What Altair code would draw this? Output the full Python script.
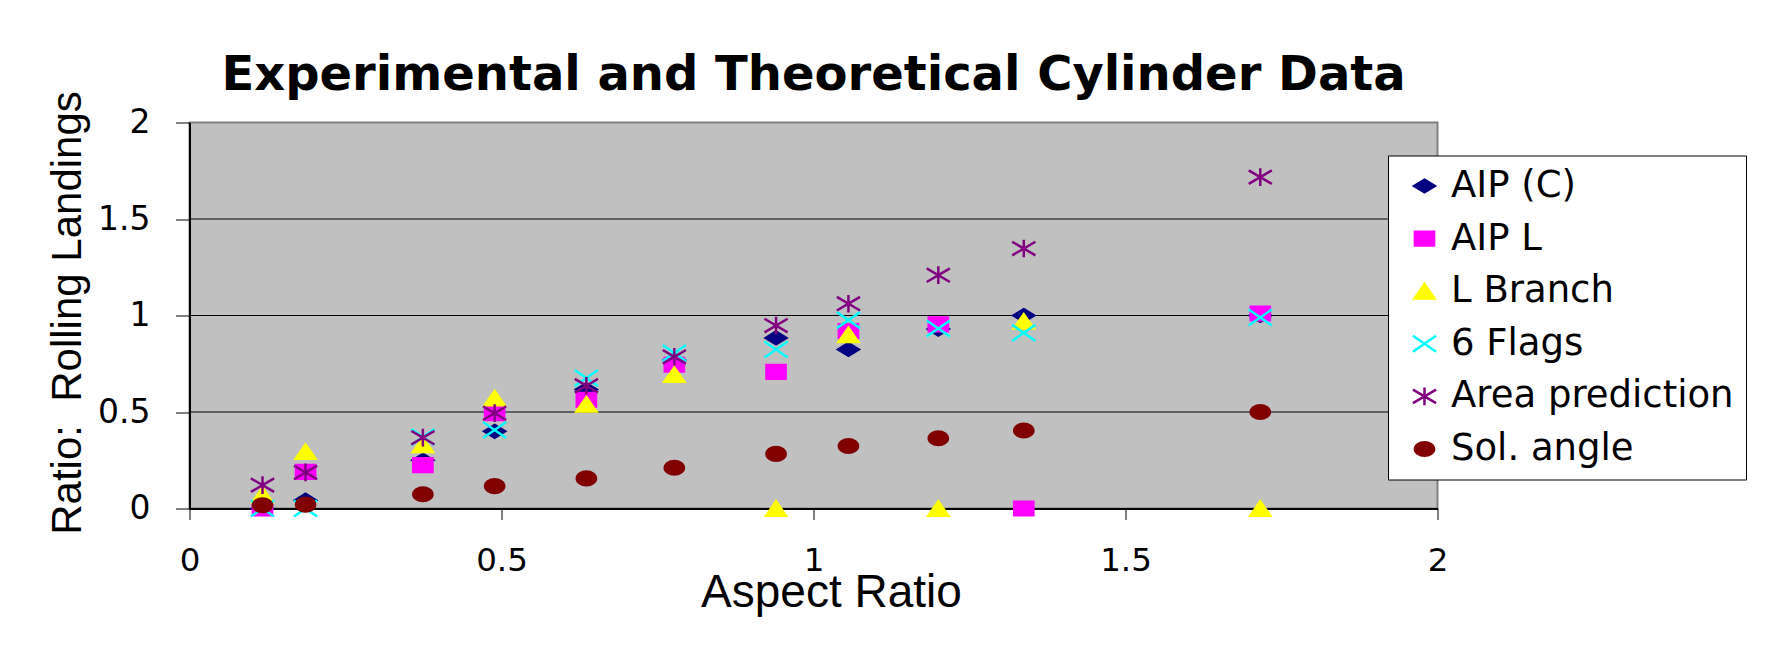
import altair as alt
import pandas as pd

# ---- data ----
aspect_ratio = [0.117, 0.186, 0.374, 0.489, 0.636, 0.777, 0.940, 1.056, 1.200, 1.337, 1.716]

aip_c = [0.0, 0.043, 0.25, 0.40, 0.616, 0.77, 0.884, 0.824, 0.93, 1.0, 1.0]
aip_l = [0.0, 0.19, 0.225, 0.494, 0.563, 0.745, 0.708, 0.919, 0.954, 0.0, 1.01]
l_branch = [0.07, 0.295, 0.33, 0.572, 0.54, 0.694, 0.0, 0.90, 0.0, 0.97, 0.0]
six_flags = [0.0, 0.0, 0.37, 0.407, 0.676, 0.806, 0.824, 0.976, 0.933, 0.91, 0.99]
area_prediction = [0.121, 0.187, 0.367, 0.494, 0.636, 0.786, 0.948, 1.061, 1.209, 1.347, 1.717]
sol_angle = [0.017, 0.02, 0.074, 0.116, 0.156, 0.211, 0.283, 0.324, 0.364, 0.404, 0.50]

series_names = ["AIP (C)", "AIP L", "L Branch", "6 Flags", "Area prediction", "Sol. angle"]
series_values = [aip_c, aip_l, l_branch, six_flags, area_prediction, sol_angle]
series_colors = ["#000080", "#ff00ff", "#ffff00", "#00ffff", "#800080", "#800000"]

axis_ticks = [0, 0.5, 1, 1.5, 2]
grid_values = [0.5, 1.0, 1.5]

# ---- marker shapes (horizontally stretched, like the reference) ----
shape_paths = [
    "M0,-0.8 L1.3,0 L0,0.8 L-1.3,0 Z",
    "M-1.2,-0.85 L1.2,-0.85 L1.2,0.85 L-1.2,0.85 Z",
    "M0,-0.9 L1.25,0.9 L-1.25,0.9 Z",
    "M-1.45,-1.0 L1.45,1.0 M-1.45,1.0 L1.45,-1.0",
    "M0,-1.1 L0,1.1 M-1.45,-0.85 L1.45,0.85 M-1.45,0.85 L1.45,-0.85",
    "M1.2,0 C1.2,0.4695 0.6628,0.85 0,0.85 C-0.6628,0.85 -1.2,0.4695 -1.2,0 "
    "C-1.2,-0.4695 -0.6628,-0.85 0,-0.85 C0.6628,-0.85 1.2,-0.4695 1.2,0 Z",
]

rows = []
for name, vals in zip(series_names, series_values):
    for x, y in zip(aspect_ratio, vals):
        rows.append({"series": name, "aspect": x, "ratio": y})
df = pd.DataFrame(rows)
grid_df = pd.DataFrame({"ratio": grid_values})

PLOT_W, PLOT_H = 1248, 386

legend = alt.Legend(
    title=None, orient="none", legendX=1198.5, legendY=33,
    padding=12, symbolOffset=6, labelOffset=8, rowPadding=14.6,
    symbolSize=256, symbolStrokeWidth=2.5,
    labelFont="DejaVu Sans", labelFontSize=37, labelColor="black", labelLimit=500,
    fillColor="white", strokeColor="black",
)

x_axis = alt.Axis(
    values=axis_ticks, format="~g", title="Aspect Ratio",
    titleFont="Liberation Sans", titleFontSize=46, titleFontWeight="normal", titleColor="black",
    titleX=641.5, titleY=97.5, titleBaseline="alphabetic", titleAlign="center",
    labelFont="DejaVu Sans", labelFontSize=32.5, labelColor="black", labelPadding=25,
    labelFlush=False, labelOverlap=False,
    tickSize=11, tickColor="black", tickWidth=1,
    domainColor="black", domainWidth=2, grid=False,
)
y_axis = alt.Axis(
    values=axis_ticks, format="~g", title="Ratio:\u00a0 Rolling Landings",
    titleFont="Liberation Sans", titleFontSize=42, titleFontWeight="normal", titleColor="black",
    titleAngle=270, titleX=-109.5, titleY=190, titleBaseline="alphabetic", titleAlign="center",
    labelFont="DejaVu Sans", labelFontSize=33, labelColor="black", labelPadding=25.5,
    labelFlush=False, labelOverlap=False,
    tickSize=14, tickColor="black", tickWidth=1,
    domainColor="black", domainWidth=2, grid=False,
)

x_scale = alt.Scale(domain=[0, 2], nice=False, zero=False)
y_scale = alt.Scale(domain=[0, 2], nice=False, zero=False)

grid = alt.Chart(grid_df).mark_rule(color="black", strokeWidth=1).encode(
    y=alt.Y("ratio:Q", scale=y_scale, axis=y_axis)
)

points = alt.Chart(df).mark_point(filled=True, opacity=1, size=256, strokeWidth=2.5).encode(
    x=alt.X("aspect:Q", scale=x_scale, axis=x_axis),
    y=alt.Y("ratio:Q", scale=y_scale, axis=y_axis),
    fill=alt.Fill("series:N", scale=alt.Scale(domain=series_names, range=series_colors), legend=legend),
    stroke=alt.Stroke("series:N", scale=alt.Scale(domain=series_names, range=series_colors), legend=legend),
    shape=alt.Shape("series:N", scale=alt.Scale(domain=series_names, range=shape_paths), legend=legend),
)

chart = alt.layer(grid, points).properties(
    width=PLOT_W,
    height=PLOT_H,
    title=alt.TitleParams(
        "Experimental and Theoretical Cylinder Data",
        font="DejaVu Sans", fontSize=48, fontWeight="bold", color="black",
        anchor="middle", baseline="alphabetic", offset=-47,
    ),
    autosize=alt.AutoSizeParams(type="none"),
    padding={"left": 181.5, "top": 114.5, "right": 336.5, "bottom": 130.5},
    background="white",
).configure_view(
    fill="#c0c0c0", stroke="#808080", strokeWidth=2
)

chart.save("out.html", embed_options={"renderer": "svg", "actions": False})
